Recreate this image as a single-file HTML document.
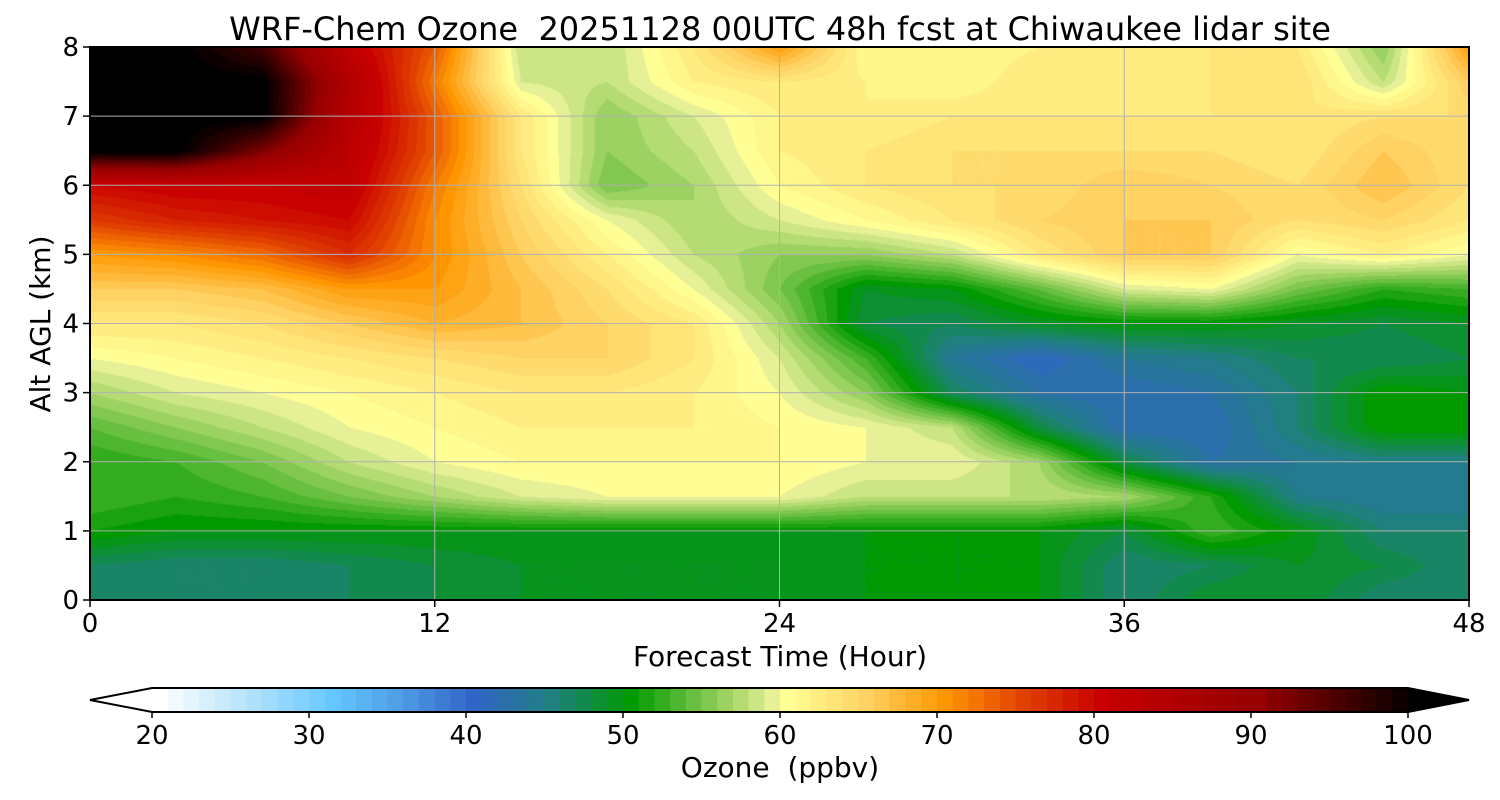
<!DOCTYPE html>
<html><head><meta charset="utf-8"><style>
body{margin:0;background:#fff;width:1500px;height:800px;overflow:hidden;font-family:"Liberation Sans",sans-serif}
#c{position:absolute;left:90px;top:47px}
svg{position:absolute;left:0;top:0}
text{font-family:"DejaVu Sans","Liberation Sans",sans-serif;fill:#000;white-space:pre}
</style></head><body>
<canvas id="c" width="1379" height="553"></canvas>
<svg id="s" width="1500" height="800"></svg>
<script>
const hours=[0,3,6,9,12,15,18,21,24,27,30,33,36,39,42,45,48];
const alts=[0,0.5,1,1.5,2,2.5,3,3.5,4,4.5,5,5.5,6,6.5,7,7.5,8];
const ozone=[
[47,46,46,47,48,49,49,49,49,50,50,50,46,49,49,46,46],
[47,46,46,47,48,49,49,49,49,50,50,50,46,47,49,48,46],
[51,50,50,50,50,50,50,50,50,50,50,50,48,53,50,46,46],
[53,52,53,55,57,59,60,60,60,58,58,58,57,52,45,44,44],
[52,53,55,58,60,61,61,61,61,60,60,57,48,43,44,45,45],
[54,56,58,60,61,62,62,62,61,60,58,48,42,42,46,51,51],
[57,59,60,61,62,63,63,62,60,56,47,43,42,43,46,51,50],
[60,61,62,63,64,65,65,63,59,53,44,41,44,45,47,47,48],
[63,63,64,66,68,67,65,63,57,48,47,49,50,50,49,48,49],
[66,66,67,70,70,67,64,60,55,49,50,54,59,60,55,52,53],
[70,71,73,77,71,66,62,58,56,56,58,63,66,66,60,62,60],
[76,78,79,80,71,65,60,57,59,61,63,65,66,66,64,65,63],
[80,81,81,82,72,64,55,57,61,63,64,64,66,65,64,67,64],
[101,101,92,83,74,63,56,58,62,63,64,64,64,64,63,66,64],
[101,101,101,84,74,63,56,59,62,62,63,63,63,63,63,64,64],
[101,101,101,85,72,59,58,62,63,62,61,63,62,63,64,58,66],
[101,101,96,82,74,58,58,63,70,61,61,62,62,63,63,56,70]];
const xTicks=[0,12,24,36,48];
const yTicks=[0,1,2,3,4,5,6,7,8];
const cbTicks=[20,30,40,50,60,70,80,90,100];
const levels=[];for(let v=20;v<100;v++)levels.push(v);
const anchors=[[20,[255,255,255]],[25,[190,230,250]],[31,[100,200,255]],[35,[80,160,230]],[40,[50,100,200]],[45,[32,128,128]],[50,[0,153,0]],[55,[130,200,80]],[59,[230,240,150]],[60,[255,255,150]],[65,[255,210,100]],[70,[255,150,0]],[75,[225,65,0]],[80,[200,0,0]],[90,[150,0,0]],[100,[0,0,0]]];
function cmap(v){if(v<20)return[255,255,255];if(v>=100)return[0,0,0];v=Math.floor(v);
for(let i=0;i<anchors.length-1;i++){const a=anchors[i],b=anchors[i+1];if(v>=a[0]&&v<=b[0]){const t=(v-a[0])/(b[0]-a[0]);return a[1].map((c,k)=>Math.round(c+(b[1][k]-c)*t));}}return[0,0,0];}
const X0=90,X1=1469,Y0=600,Y1=47;
const xs=h=>X0+(h-0)/(48-0)*(X1-X0), ys=a=>Y0-(a/8)*(Y0-Y1);
const cv=document.getElementById('c'),ctx=cv.getContext('2d'),W=cv.width,H=cv.height,img=ctx.createImageData(W,H);
function val(h,a){let i=Math.min(hours.length-2,Math.max(0,Math.floor(h/3)));let j=Math.min(alts.length-2,Math.max(0,Math.floor(a/0.5)));
const tx=(h-hours[i])/3,ty=(a-alts[j])/0.5;
return ozone[j][i]*(1-tx)*(1-ty)+ozone[j][i+1]*tx*(1-ty)+ozone[j+1][i]*(1-tx)*ty+ozone[j+1][i+1]*tx*ty;}
for(let py=0;py<H;py++){const a=(H-py)/H*8;for(let px=0;px<W;px++){const h=px/W*48;const c=cmap(val(h,a));const k=(py*W+px)*4;img.data[k]=c[0];img.data[k+1]=c[1];img.data[k+2]=c[2];img.data[k+3]=255;}}
ctx.putImageData(img,0,0);
const s=document.getElementById('s'),NS='http://www.w3.org/2000/svg';
function el(t,at,txt){const e=document.createElementNS(NS,t);for(const k in at)e.setAttribute(k,at[k]);if(txt!==undefined)e.textContent=txt;s.appendChild(e);return e;}
xTicks.forEach(t=>{const x=xs(t);
const g=el('line',{x1:x,x2:x,y1:Y1,y2:Y0,stroke:'#b0b0b0','stroke-width':1});

el('line',{x1:x,x2:x,y1:Y0,y2:Y0+7,stroke:'#000','stroke-width':1.5});
const l=el('text',{x:x,y:632,'font-size':26,'text-anchor':'middle'},String(t));
});
yTicks.forEach(t=>{const y=ys(t);
const g=el('line',{x1:X0,x2:X1,y1:y,y2:y,stroke:'#b0b0b0','stroke-width':1});

el('line',{x1:X0-7,x2:X0,y1:y,y2:y,stroke:'#000','stroke-width':1.5});
const l=el('text',{x:X0-11,y:y+9,'font-size':26,'text-anchor':'end'},String(t));
});
const fr=el('rect',{x:X0,y:Y1,width:X1-X0,height:Y0-Y1,fill:'none',stroke:'#000','stroke-width':2});

const ti=el('text',{x:780,y:40,'font-size':32,'text-anchor':'middle'},'WRF-Chem Ozone  20251128 00UTC 48h fcst at Chiwaukee lidar site');

const xl=el('text',{x:780,y:666,'font-size':28,'text-anchor':'middle'},'Forecast Time (Hour)');

const yl=el('text',{x:0,y:0,'font-size':28,'text-anchor':'middle',transform:'translate(50,324) rotate(-90)'},'Alt AGL (km)');

const C0=152,C1=1408,CT=688,CB=712,cx=v=>C0+(v-20)/80*(C1-C0);
levels.forEach(v=>{const c=cmap(v);const r=el('rect',{x:cx(v),y:CT,width:cx(v+1)-cx(v)+0.6,height:CB-CT,fill:`rgb(${c})`});
});
const lt=el('polygon',{points:`${C0},${CT} 90,${(CT+CB)/2} ${C0},${CB}`,fill:'#fff'});

const rt=el('polygon',{points:`${C1},${CT} 1469,${(CT+CB)/2} ${C1},${CB}`,fill:'#000'});

el('polygon',{points:`${C0},${CT} 90,${(CT+CB)/2} ${C0},${CB} ${C1},${CB} 1469,${(CT+CB)/2} ${C1},${CT}`,fill:'none',stroke:'#000','stroke-width':2});
cbTicks.forEach(t=>{const x=cx(t);el('line',{x1:x,x2:x,y1:CB,y2:CB+6,stroke:'#000','stroke-width':1.5});
const l=el('text',{x:x,y:744,'font-size':26,'text-anchor':'middle'},String(t));
});
const cl=el('text',{x:780,y:777,'font-size':28,'text-anchor':'middle'},'Ozone  (ppbv)');

</script></body></html>
